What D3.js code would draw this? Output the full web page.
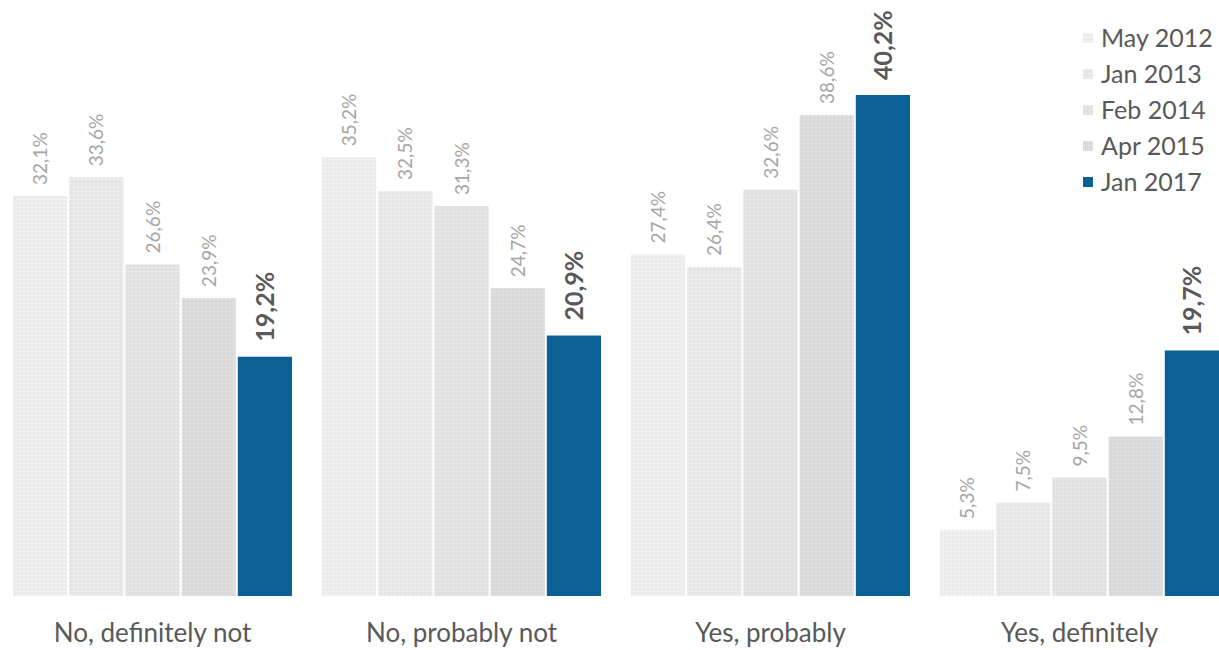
<!DOCTYPE html>
<html>
<head>
<meta charset="utf-8">
<script src="https://cdn.jsdelivr.net/npm/d3@7"></script>
<style>
  html, body { margin: 0; padding: 0; background: #ffffff; }
  svg { display: block; font-family: Lato, "Open Sans", sans-serif; }
</style>
</head>
<body>
<svg id="chart" width="1219" height="650"></svg>
<script>
// Survey answers by wave
const categories = ["No, definitely not", "No, probably not", "Yes, probably", "Yes, definitely"];
const waves = ["May 2012", "Jan 2013", "Feb 2014", "Apr 2015", "Jan 2017"];
const may2012 = [32.1, 35.2, 27.4, 5.3];
const jan2013 = [33.6, 32.5, 26.4, 7.5];
const feb2014 = [26.6, 31.3, 32.6, 9.5];
const apr2015 = [23.9, 24.7, 38.6, 12.8];
const jan2017 = [19.2, 20.9, 40.2, 19.7];
const seriesValues = [may2012, jan2013, feb2014, apr2015, jan2017];

const colors = ["#ededed", "#e7e7e7", "#e2e2e2", "#dbdbdb", "#0b6196"];

const svg = d3.select("#chart");
const baseY = 596;

const x0 = d3.scaleBand().domain(categories).range([-2, 1234]).paddingInner(0.097).paddingOuter(0.0485);
const x1 = d3.scaleBand().domain(waves).range([0, x0.bandwidth()]).paddingInner(2 / 56).paddingOuter(0);
const y = d3.scaleLinear().domain([0, 40.2]).range([baseY, 95]);

// faint dotted textures for the grey series
const defs = svg.append("defs");
colors.slice(0, 4).forEach((c, i) => {
  const p = defs.append("pattern")
    .attr("id", "tex" + i).attr("patternUnits", "userSpaceOnUse")
    .attr("width", 4).attr("height", 4);
  p.append("rect").attr("width", 4).attr("height", 4).attr("fill", c);
  p.append("rect").attr("x", (i % 2) * 2).attr("y", 1).attr("width", 1).attr("height", 1)
    .attr("fill", d3.color(c).darker(0.12));
  p.append("rect").attr("x", 3 - (i % 2) * 2).attr("y", 3).attr("width", 1).attr("height", 1)
    .attr("fill", d3.color(c).brighter(0.2));
});

const fmt = v => v.toFixed(1).replace(".", ",") + "%";

const groups = svg.append("g").selectAll("g")
  .data(categories)
  .join("g")
  .attr("transform", d => `translate(${x0(d)},0)`);

groups.each(function(cat, ci) {
  const g = d3.select(this);
  const rows = waves.map((w, wi) => ({ wave: w, wi, value: seriesValues[wi][ci] }));
  g.selectAll("rect")
    .data(rows)
    .join("rect")
    .attr("x", d => x1(d.wave))
    .attr("y", d => y(d.value))
    .attr("width", x1.bandwidth())
    .attr("height", d => baseY - y(d.value))
    .attr("fill", d => d.wi < 4 ? `url(#tex${d.wi})` : colors[d.wi]);

  g.selectAll("text.val")
    .data(rows)
    .join("text")
    .attr("class", "val")
    .attr("transform", d => `translate(${x1(d.wave) + x1.bandwidth() / 2 + (d.wi === 4 ? 9 : 7)},${y(d.value) - (d.wi === 4 ? 15 : 11)}) rotate(-90)`)
    .attr("fill", d => d.wi === 4 ? "#595959" : "#a6a6a6")
    .attr("font-size", d => d.wi === 4 ? "25px" : "19px")
    .attr("font-weight", d => d.wi === 4 ? "bold" : "normal")
    .text(d => fmt(d.value));
});

// category axis
const axis = svg.append("g").attr("transform", `translate(0,${baseY})`)
  .call(d3.axisBottom(x0).tickSize(0).tickPadding(28));
axis.select(".domain").remove();
axis.selectAll("text")
  .attr("fill", "#595959")
  .attr("font-size", "26px")
  .attr("font-family", "Lato, 'Open Sans', sans-serif");

// legend
const legend = svg.append("g").selectAll("g")
  .data(waves)
  .join("g")
  .attr("transform", (d, i) => `translate(1083,${38 + i * 36})`);
legend.append("rect")
  .attr("x", 0).attr("y", -5).attr("width", 10).attr("height", 10)
  .attr("fill", (d, i) => i < 4 ? `url(#tex${i})` : colors[i]);
legend.append("text")
  .attr("x", 18).attr("y", 0).attr("dy", "0.35em")
  .attr("fill", "#595959").attr("font-size", "25px")
  .text(d => d);
</script>
</body>
</html>
